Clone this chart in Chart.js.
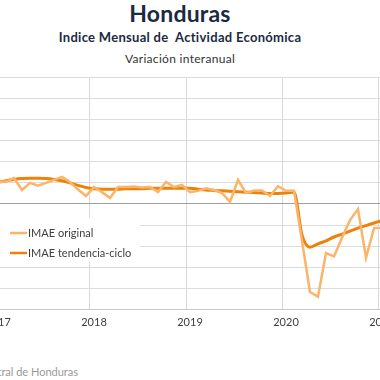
<!DOCTYPE html>
<html lang="es">
<head>
<meta charset="utf-8">
<title>Honduras IMAE</title>
<script src="https://cdn.jsdelivr.net/npm/chart.js@4.4.1/dist/chart.umd.min.js"></script>
<style>
    html, body {
        margin: 0;
        padding: 0;
        width: 380px;
        height: 380px;
        overflow: hidden;
        background: #fff;
        font-family: 'Lato', sans-serif;
        position: relative;
    }
    .titulo {
        position: absolute;
        left: 0;
        width: 360px;
        text-align: center;
        white-space: pre;
    }
    #t1 { top: -1px; font-size: 23px; font-weight: 700; color: #1b2a3f; letter-spacing: 0.2px; }
    #t2 { top: 29px; font-size: 13px; font-weight: 700; color: #1b2a3f; letter-spacing: 0.3px; }
    #t3 { top: 51px; font-size: 12px; color: #333; letter-spacing: 0.3px; }
    #fuente {
        position: absolute;
        left: 78px;
        top: 365px;
        transform: translateX(-100%);
        white-space: nowrap;
        font-size: 11px;
        color: #9a9a9a;
    }
    #grafico {
        position: absolute;
        left: -30px;
        top: 72px;
    }
</style>
</head>
<body>
<div class="titulo" id="t1">Honduras</div>
<div class="titulo" id="t2">Indice Mensual de  Actividad Económica</div>
<div class="titulo" id="t3">Variación interanual</div>
<canvas id="grafico" width="440" height="263"></canvas>
<div id="fuente">Fuente: Banco Central de Honduras</div>

<script>
// Meses desde enero 2017 (0 = ene-2017) hasta enero 2021
const meses = [];
for (let i = 0; i <= 48; i++) meses.push(i);

// Años mostrados en el eje (la linea de cada año va medio mes antes de enero)
const anios = [2017, 2018, 2019, 2020, 2021];

// IMAE original, variación interanual (%)
const imaeOriginal = [
    5.2, 5.3, 6.1, 3.3, 5.0, 4.3, 5.0, 5.7, 6.4, 5.2, 3.4, 1.9,
    4.0, 2.8, 1.4, 4.0, 4.0, 4.1, 3.9, 4.0, 2.8, 5.2, 4.0, 4.5,
    2.8, 3.1, 3.7, 3.3, 2.6, 0.5, 5.7, 2.6, 3.2, 3.2, 1.9, 4.2,
    3.1, 3.1, -8.7, -20.8, -21.9, -11.6, -12.4, -8.0, -3.8, -1.2, -12.7, -5.7,
    -5.6
];

// IMAE tendencia-ciclo (%)
const imaeTendencia = [
    5.1, 5.5, 5.8, 6.0, 6.1, 6.1, 6.0, 5.8, 5.5, 5.0, 4.4, 3.9,
    3.6, 3.5, 3.5, 3.5, 3.6, 3.6, 3.6, 3.7, 3.7, 3.7, 3.7, 3.7,
    3.7, 3.5, 3.3, 3.2, 3.1, 3.0, 2.9, 2.8, 2.7, 2.6, 2.5, 2.5,
    2.6, 2.8, -7.3, -10.2, -9.4, -8.7, -7.8, -7.1, -6.4, -5.7, -5.1, -4.5,
    -3.9
];

const etiquetas = ['IMAE original', 'IMAE tendencia-ciclo'];
const colores = ['#fbb469', '#ec8209'];

// Leyenda dentro del area del grafico, con fondo blanco
const leyendaInterna = {
    id: 'leyendaInterna',
    beforeDatasetsDraw(chart) {
        const ctx = chart.ctx;
        const area = chart.chartArea;
        const x0 = area.left;
        const y0 = area.top + 141;
        ctx.save();
        ctx.fillStyle = '#fff';
        ctx.fillRect(x0, y0, 170, 44);
        ctx.font = '11px Lato, sans-serif';
        ctx.textBaseline = 'middle';
        etiquetas.forEach(function(txt, i) {
            const y = y0 + 15 + i * 20;
            ctx.strokeStyle = colores[i];
            ctx.lineWidth = 2.5;
            ctx.beginPath();
            ctx.moveTo(x0 + 40, y);
            ctx.lineTo(x0 + 57, y);
            ctx.stroke();
            ctx.fillStyle = '#404040';
            ctx.fillText(txt, x0 + 58, y);
        });
        ctx.restore();
    }
};

const datosOriginal = meses.map((m, i) => ({ x: m, y: imaeOriginal[i] }));
const datosTendencia = meses.map((m, i) => ({ x: m, y: imaeTendencia[i] }));

new Chart(document.getElementById('grafico'), {
    type: 'line',
    data: {
        datasets: [{
            label: etiquetas[0],
            data: datosOriginal,
            borderColor: colores[0],
            borderWidth: 2.5,
            pointRadius: 0,
            tension: 0
        }, {
            label: etiquetas[1],
            data: datosTendencia,
            borderColor: colores[1],
            borderWidth: 3,
            pointRadius: 0,
            cubicInterpolationMode: 'monotone'
        }]
    },
    options: {
        responsive: false,
        animation: false,
        layout: { padding: { top: 5, left: 0, right: 0, bottom: 0 } },
        plugins: {
            legend: { display: false },
            tooltip: { enabled: false }
        },
        scales: {
            x: {
                type: 'linear',
                min: -3.5,
                max: 51.5,
                afterBuildTicks: function(scale) {
                    scale.ticks = anios.map(a => ({ value: (a - 2017) * 12 - 0.5 }));
                },
                grid: { color: '#d9d9d9', drawTicks: false },
                border: { color: '#c8c8c8' },
                ticks: {
                    autoSkip: false,
                    maxRotation: 0,
                    padding: 6,
                    labelOffset: 4,
                    color: '#404040',
                    font: { family: 'Lato', size: 11 },
                    callback: function(value) {
                        return String(2017 + Math.round((value + 0.5) / 12));
                    }
                }
            },
            y: {
                min: -25,
                max: 30,
                ticks: { display: false, stepSize: 5 },
                grid: {
                    drawTicks: false,
                    color: function(ctx) {
                        return ctx.tick && ctx.tick.value === 0 ? '#a0a0a0' : '#dcdcdc';
                    }
                },
                border: { display: false }
            }
        }
    },
    plugins: [leyendaInterna]
});
</script>
</body>
</html>
